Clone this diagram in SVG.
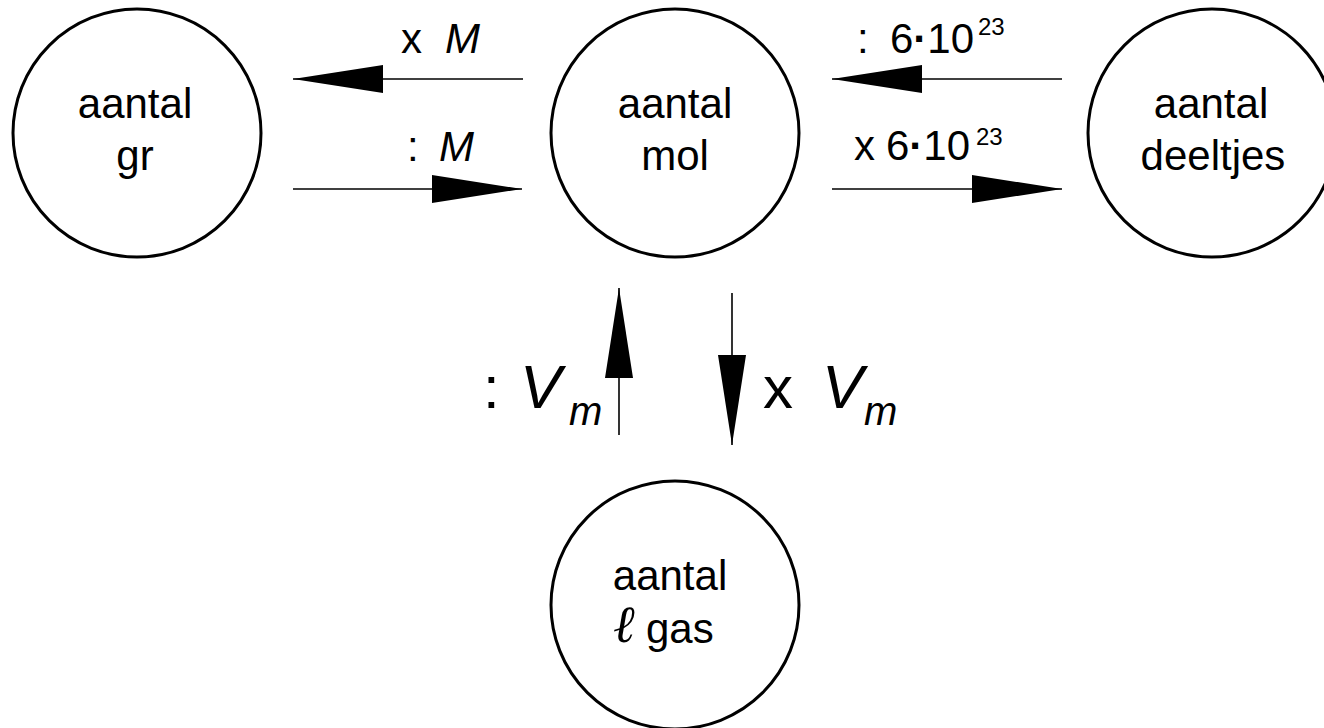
<svg xmlns="http://www.w3.org/2000/svg" width="1324" height="728" viewBox="0 0 1324 728">
<style>
.node{fill:#fff;stroke:#000;stroke-width:3}
.nt{font-family:"Liberation Sans",Arial,sans-serif;font-size:42px;fill:#000;text-anchor:middle}
.lbl{font-family:"Liberation Sans",Arial,sans-serif;font-size:42px;fill:#000}
.it{font-style:italic}
.dot{font-weight:bold}
.sup{font-size:24px}
.big{font-family:"Liberation Sans",Arial,sans-serif;font-size:60px;fill:#000}
.bigv{font-size:62px}
.sub{font-family:"Liberation Sans",Arial,sans-serif;font-size:40px;font-style:italic;fill:#000}
.conn{stroke:#000;stroke-width:1.6;fill:none}
</style>
<defs>
<marker id="ah" viewBox="0 0 90 30" refX="90" refY="15" markerWidth="90" markerHeight="30" markerUnits="userSpaceOnUse" orient="auto">
<path d="M0,1 L90,15 L0,29 Z" fill="#000"/>
</marker>
</defs>
<rect width="1324" height="728" fill="#fff"/>
<g id="node-gr">
<circle class="node" cx="137" cy="133" r="124"/>
<text class="nt" x="135" y="118">aantal</text>
<text class="nt" x="135" y="170">gr</text>
</g>
<g id="node-mol">
<circle class="node" cx="675" cy="133" r="124"/>
<text class="nt" x="675" y="118">aantal</text>
<text class="nt" x="675" y="170">mol</text>
</g>
<g id="node-deeltjes">
<circle class="node" cx="1212" cy="133" r="124"/>
<text class="nt" x="1211" y="118">aantal</text>
<text class="nt" x="1213" y="170">deeltjes</text>
</g>
<g id="node-gas">
<circle class="node" cx="675" cy="605" r="124"/>
<text class="nt" x="670" y="590">aantal</text>
<text x="614" y="642" style="font-family:'DejaVu Serif',serif;font-size:52px;font-style:italic;font-weight:bold;fill:#000">ℓ</text>
<text class="lbl" x="646" y="643">gas</text>
</g>
<g id="connectors">
<line class="conn" x1="523" y1="79" x2="293" y2="79" marker-end="url(#ah)"/>
<line class="conn" x1="293" y1="189" x2="522" y2="189" marker-end="url(#ah)"/>
<line class="conn" x1="1062" y1="79" x2="832" y2="79" marker-end="url(#ah)"/>
<line class="conn" x1="832" y1="189" x2="1062" y2="189" marker-end="url(#ah)"/>
<line class="conn" x1="619" y1="435" x2="619" y2="288" marker-end="url(#ah)"/>
<line class="conn" x1="732" y1="293" x2="732" y2="445" marker-end="url(#ah)"/>
</g>
<g id="labels">
<text class="lbl" x="401" y="53">x</text>
<text class="lbl it" x="445" y="53">M</text>
<text class="lbl" x="407" y="161">:</text>
<text class="lbl it" x="439" y="161">M</text>
<text class="lbl" x="857" y="53">:</text>
<text class="lbl" x="890" y="53">6<tspan class="dot">·</tspan>10</text>
<text class="lbl sup" x="978" y="35">23</text>
<text class="lbl" x="854" y="160">x</text>
<text class="lbl" x="886" y="160">6<tspan class="dot">·</tspan>10</text>
<text class="lbl sup" x="976" y="145">23</text>
<text class="big" x="483" y="408">:</text>
<text class="big bigv it" x="520" y="408">V</text>
<text class="sub" x="569" y="425">m</text>
<text class="big" x="763" y="408">x</text>
<text class="big bigv it" x="822" y="408">V</text>
<text class="sub" x="864" y="425">m</text>
</g>
</svg>
